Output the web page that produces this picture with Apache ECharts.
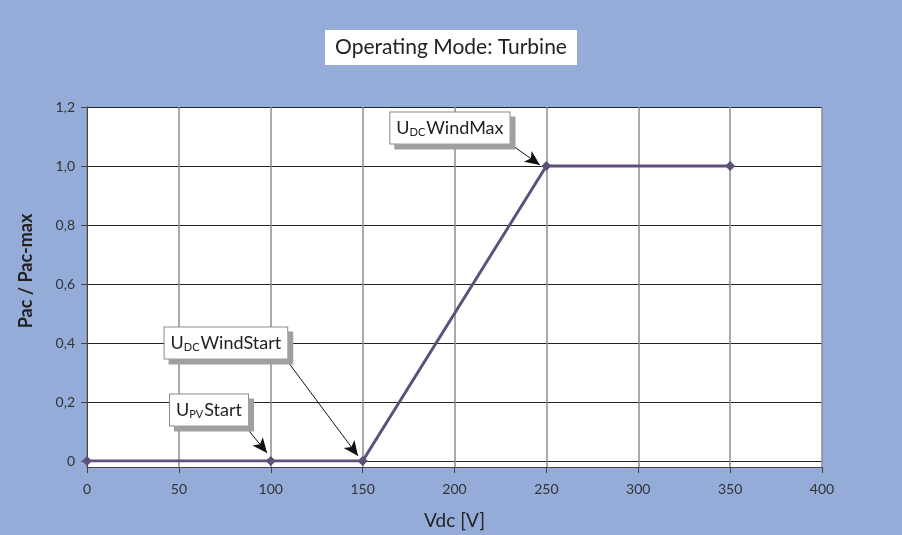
<!DOCTYPE html>
<html>
<head>
<meta charset="utf-8">
<script src="https://cdn.jsdelivr.net/npm/echarts@6/dist/echarts.min.js"></script>
<style>
  html, body { margin: 0; padding: 0; background: #95acd9; }
  #chart { width: 902px; height: 535px; }
</style>
</head>
<body>
<div id="chart"></div>
<script>
// data
const vdc = [0, 100, 150, 250, 350];
const pacRatio = [0, 0, 0, 1, 1];

// annotations: label centre + arrow start/end (data coords)
const noteNames = ['WindMax', 'WindStart', 'Start'];
const noteSubs = ['DC', 'DC', 'PV'];
const noteCentres = [[197.5, 1.129], [75.6, 0.4], [66.4, 0.173]];
const arrowFrom = [[229, 1.081], [107.8, 0.349], [86, 0.119]];
const arrowTo = [[246.5, 1.003], [147.5, 0.017], [98, 0.027]];

const FONT = 'Lato';

const chart = echarts.init(document.getElementById('chart'));

const fmtY = v => (v === 0 ? '0' : v.toFixed(1).replace('.', ','));

const option = {
  backgroundColor: '#95acd9',
  textStyle: { fontFamily: FONT },
  animation: false,
  title: {
    text: 'Operating Mode: Turbine',
    left: 'center',
    top: 30,
    backgroundColor: '#fff',
    padding: [7, 10, 7, 10],
    textStyle: { fontFamily: FONT, fontSize: 21, fontWeight: 'normal', color: '#222' }
  },
  grid: [
    // outer plot area (white), down to the x axis
    { left: 87, right: 80, top: 107, bottom: 65, show: true, backgroundColor: '#fff', borderWidth: 0 },
    // value area, 0 .. 1.2
    { left: 87, right: 80, top: 107, bottom: 74, show: false }
  ],
  xAxis: [
    {
      gridIndex: 0, type: 'value', min: 0, max: 400, interval: 50,
      name: 'Vdc [V]', nameLocation: 'middle', nameGap: 44,
      nameTextStyle: { fontFamily: FONT, fontSize: 19, color: '#222' },
      axisLine: { lineStyle: { color: '#444', width: 1 } },
      axisTick: { show: true, length: 6, lineStyle: { color: '#444' } },
      axisLabel: { fontFamily: FONT, fontSize: 14, color: '#333', margin: 15 },
      splitLine: { show: true, lineStyle: { color: '#8c8c8c', width: 1.5 } }
    },
    {
      gridIndex: 1, type: 'value', min: 0, max: 400, interval: 50,
      show: false
    }
  ],
  yAxis: [
    {
      gridIndex: 0, type: 'value', min: 0, max: 1,
      axisLine: { show: true, lineStyle: { color: '#444' } },
      axisTick: { show: false }, axisLabel: { show: false }, splitLine: { show: false }
    },
    {
      gridIndex: 1, type: 'value', min: 0, max: 1.2, interval: 0.2,
      name: 'Pac / Pac-max', nameLocation: 'middle', nameGap: 52, nameRotate: 90,
      nameTextStyle: { fontFamily: FONT, fontSize: 18, fontWeight: 'bold', color: '#222', padding: [0, 0, 0, 26] },
      axisLine: { show: false },
      axisTick: { show: true, length: 6, lineStyle: { color: '#444' } },
      axisLabel: { fontFamily: FONT, fontSize: 14, color: '#333', margin: 12, formatter: fmtY },
      splitLine: { show: true, lineStyle: { color: '#222', width: 1 } }
    }
  ],
  series: [
    {
      type: 'line',
      xAxisIndex: 1, yAxisIndex: 1,
      data: vdc.map((x, i) => [x, pacRatio[i]]),
      symbol: 'diamond', symbolSize: 10, showSymbol: true,
      lineStyle: { color: '#5e5079', width: 3 },
      itemStyle: { color: '#5e5079' },
      z: 3,
      markPoint: {
        symbol: 'rect', symbolSize: 0,
        label: {
          show: true, position: 'inside',
          backgroundColor: '#fff', borderColor: '#8a8a8a', borderWidth: 1,
          shadowColor: '#a0a0a0', shadowOffsetX: 5, shadowOffsetY: 5, shadowBlur: 0,
          padding: [6, 6, 5, 6],
          rich: {
            u: { fontFamily: FONT, fontSize: 18, color: '#222', lineHeight: 20 },
            s: { fontFamily: FONT, fontSize: 11, color: '#222', lineHeight: 20, padding: [8, 1, 0, 0] }
          }
        },
        data: noteNames.map((n, i) => ({
          coord: noteCentres[i],
          value: 0,
          label: { formatter: '{u|U}{s|' + noteSubs[i] + '}{u|' + n + '}' }
        }))
      },
      markLine: {
        silent: true,
        symbolSize: [10, 15],
        label: { show: false },
        lineStyle: { color: '#111', width: 1, type: 'solid' },
        data: arrowFrom.map((p, i) => [
          { coord: p, symbol: 'none' },
          { coord: arrowTo[i], symbol: 'arrow' }
        ])
      }
    }
  ]
};

chart.setOption(option);
</script>
</body>
</html>
